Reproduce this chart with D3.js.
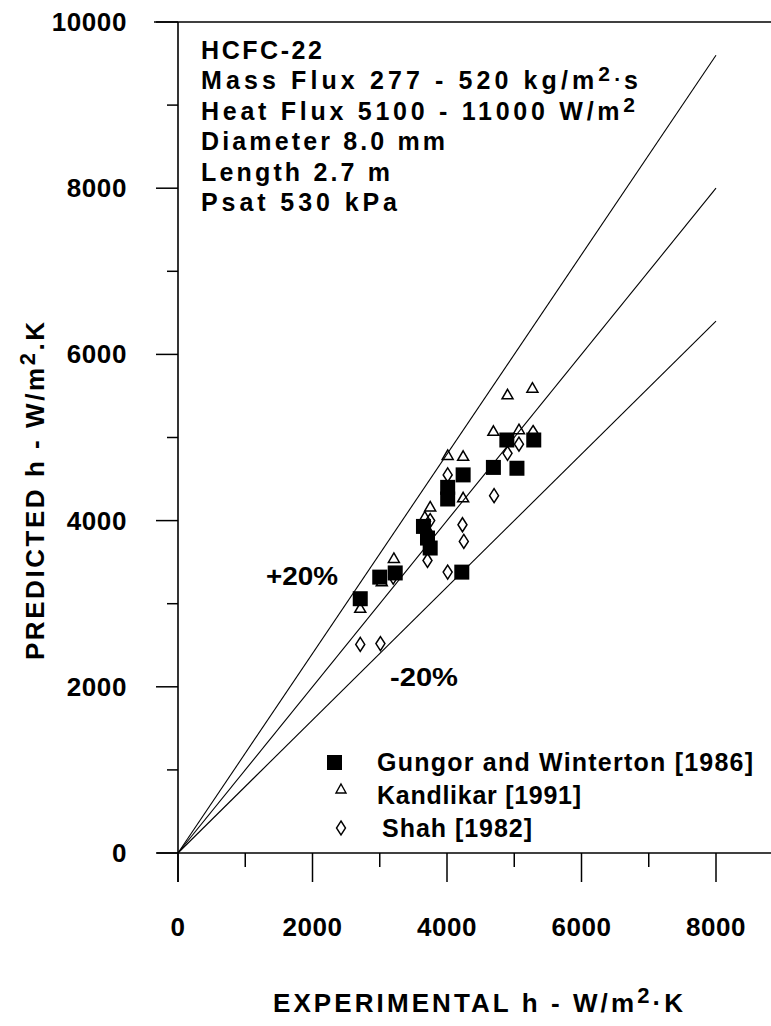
<!DOCTYPE html>
<html><head><meta charset="utf-8">
<script src="https://cdn.jsdelivr.net/npm/d3@7"></script>
<style>
body{margin:0;background:#fff;}
text{font-family:"Liberation Sans",Arial,sans-serif;font-weight:bold;fill:#000;}
</style></head>
<body><svg id="c" width="771" height="1026"></svg>
<script>
// ---- data ----
const xTicks = [0, 2000, 4000, 6000, 8000];
const xMinor = [1000, 3000, 5000, 7000];
const yTicks = [0, 2000, 4000, 6000, 8000, 10000];
const yMinor = [1000, 3000, 5000, 7000, 9000];
const bandFactors = [1.2, 1.0, 0.8];
const bandLabels = ["+20%", "-20%"];
const gungorExp  = [2710,3000,3230,3650,3710,3750,4010,4010,4240,4220,4690,5040,4890,5290];
const gungorPred = [3060,3320,3370,3930,3790,3670,4400,4260,4550,3380,4640,4630,4970,4970];
const kandExp    = [2710,3030,3210,3670,3710,3750,4010,4240,4240,4690,5070,4900,5270];
const kandPred   = [2950,3270,3550,4050,3905,4170,4790,4780,4280,5080,5100,5520,5600];
const shahExp    = [2710,3010,3200,3750,3710,4010,4230,4250,4010,4700,4900,5070,5280];
const shahPred   = [2510,2520,3320,4000,3520,4550,3950,3750,3380,4300,4810,4920,5060];
const seriesNames = ["Gungor and Winterton [1986]", "Kandlikar [1991]", "Shah [1982]"];
const infoLines = ["HCFC-22", "Mass Flux 277 - 520 kg/m|2.|s", "Heat Flux 5100 - 11000 W/m|2|", "Diameter 8.0 mm", "Length 2.7 m", "Psat 530 kPa"];

// ---- scales ----
const svg = d3.select("#c");
const x = d3.scaleLinear().domain([0, 8000]).range([178, 716]);
const y = d3.scaleLinear().domain([0, 10000]).range([853, 22]);

const g = svg.append("g");
// frame lines
g.append("line").attr("x1",154).attr("x2",771).attr("y1",y(10000)).attr("y2",y(10000)).attr("stroke","#000").attr("stroke-width",1.6);
g.append("line").attr("x1",157).attr("x2",771).attr("y1",y(0)).attr("y2",y(0)).attr("stroke","#000").attr("stroke-width",1.6);
g.append("line").attr("x1",x(0)).attr("x2",x(0)).attr("y1",y(10000)).attr("y2",y(0)+29).attr("stroke","#000").attr("stroke-width",1.6);

// x ticks
g.selectAll(".xt").data(xTicks).enter().append("line")
 .attr("x1",d=>x(d)).attr("x2",d=>x(d)).attr("y1",y(0)).attr("y2",y(0)+29).attr("stroke","#000").attr("stroke-width",1.5);
g.selectAll(".xm").data(xMinor).enter().append("line")
 .attr("x1",d=>x(d)).attr("x2",d=>x(d)).attr("y1",y(0)).attr("y2",y(0)+14).attr("stroke","#000").attr("stroke-width",1.5);
g.selectAll(".xl").data(xTicks).enter().append("text")
 .attr("x",d=>x(d)).attr("y",936).attr("text-anchor","middle")
 .style("font-size","26px").style("letter-spacing","0.6px").text(d=>d);
// y ticks
g.selectAll(".yt").data(yTicks).enter().append("line")
 .attr("x1",x(0)-22).attr("x2",x(0)).attr("y1",d=>y(d)).attr("y2",d=>y(d)).attr("stroke","#000").attr("stroke-width",1.5);
g.selectAll(".ym").data(yMinor).enter().append("line")
 .attr("x1",x(0)-11).attr("x2",x(0)).attr("y1",d=>y(d)).attr("y2",d=>y(d)).attr("stroke","#000").attr("stroke-width",1.5);
g.selectAll(".yl").data(yTicks).enter().append("text")
 .attr("x",127).attr("y",d=>y(d)+9).attr("text-anchor","end")
 .style("font-size","26px").style("letter-spacing","0.6px").text(d=>d);

// reference lines
g.selectAll(".ref").data(bandFactors).enter().append("line")
 .attr("x1",x(0)).attr("y1",y(0)).attr("x2",x(8000)).attr("y2",f=>y(8000*f))
 .attr("stroke","#000").attr("stroke-width",1.1);
svg.append("text").attr("x",266).attr("y",585).style("font-size","26px")
 .attr("textLength",72).attr("lengthAdjust","spacingAndGlyphs").text(bandLabels[0]);
svg.append("text").attr("x",390).attr("y",686).style("font-size","26px")
 .attr("textLength",68).attr("lengthAdjust","spacingAndGlyphs").text(bandLabels[1]);

// markers
const sq = 15;
g.selectAll(".gw").data(gungorExp.map((v,i)=>[v,gungorPred[i]])).enter().append("rect")
 .attr("x",d=>x(d[0])-sq/2).attr("y",d=>y(d[1])-sq/2).attr("width",sq).attr("height",sq).attr("fill","#000");
const tri = d => { const cx=x(d[0]), cy=y(d[1]); return `M${cx},${cy-5}L${cx+5.5},${cy+4.5}L${cx-5.5},${cy+4.5}Z`; };
g.selectAll(".kd").data(kandExp.map((v,i)=>[v,kandPred[i]])).enter().append("path")
 .attr("d",tri).attr("fill","none").attr("stroke","#000").attr("stroke-width",1.5);
const dia = d => { const cx=x(d[0]), cy=y(d[1]); return `M${cx},${cy-7}L${cx+4.5},${cy}L${cx},${cy+7}L${cx-4.5},${cy}Z`; };
g.selectAll(".sh").data(shahExp.map((v,i)=>[v,shahPred[i]])).enter().append("path")
 .attr("d",dia).attr("fill","none").attr("stroke","#000").attr("stroke-width",1.5);

// legend
const lg = svg.append("g");
lg.append("rect").attr("x",327).attr("y",755).attr("width",15).attr("height",15).attr("fill","#000");
lg.append("path").attr("d",`M341,784L346,793L336,793Z`).attr("fill","none").attr("stroke","#000").attr("stroke-width",1.4);
lg.append("path").attr("d",`M341,821L345.5,828L341,835L336.5,828Z`).attr("fill","none").attr("stroke","#000").attr("stroke-width",1.4);
const legY = [771, 804, 837], legX = [377, 377, 382], legW = [376, 204, 150];
lg.selectAll("text").data(seriesNames).enter().append("text")
 .attr("x",(d,i)=>legX[i]).attr("y",(d,i)=>legY[i])
 .attr("textLength",(d,i)=>legW[i]).attr("lengthAdjust","spacing")
 .style("font-size","25px").text(d=>d);

// info block
const infoW = [121, 437, 434, 244, 189, 196];
const info = svg.append("g");
infoLines.forEach((ln,i)=>{
  const t = info.append("text").attr("x",201).attr("y",59+i*30.4)
    .attr("textLength",infoW[i]).attr("lengthAdjust","spacing")
    .style("font-size","25px");
  const parts = ln.split("|");
  parts.forEach((p,j)=>{
    if(p==="") return;
    const ts = t.append("tspan").text(p);
    if(j===1){ ts.attr("dy",-8).style("font-size","21px"); }
    if(j===2){ ts.attr("dy",8); }
  });
});

// axis titles
function sup(t, parts){
  parts.forEach(([s,isSup],k)=>{
    const ts=t.append("tspan").text(s);
    if(isSup){ts.attr("dy",-9).style("font-size","22px");} else if(k>0 && parts[k-1][1]){ts.attr("dy",9);}
  });
}
const xt = svg.append("text").attr("x",273).attr("y",1012).style("font-size","26px")
 .attr("textLength",410).attr("lengthAdjust","spacing");
sup(xt, [["EXPERIMENTAL h - W/m",false],["2",true],["·K",false]]);
const yt = svg.append("text").attr("transform","translate(44,660) rotate(-90)").style("font-size","26px")
 .attr("textLength",338).attr("lengthAdjust","spacing");
sup(yt, [["PREDICTED h - W/m",false],["2",true],[".K",false]]);
</script></body></html>
